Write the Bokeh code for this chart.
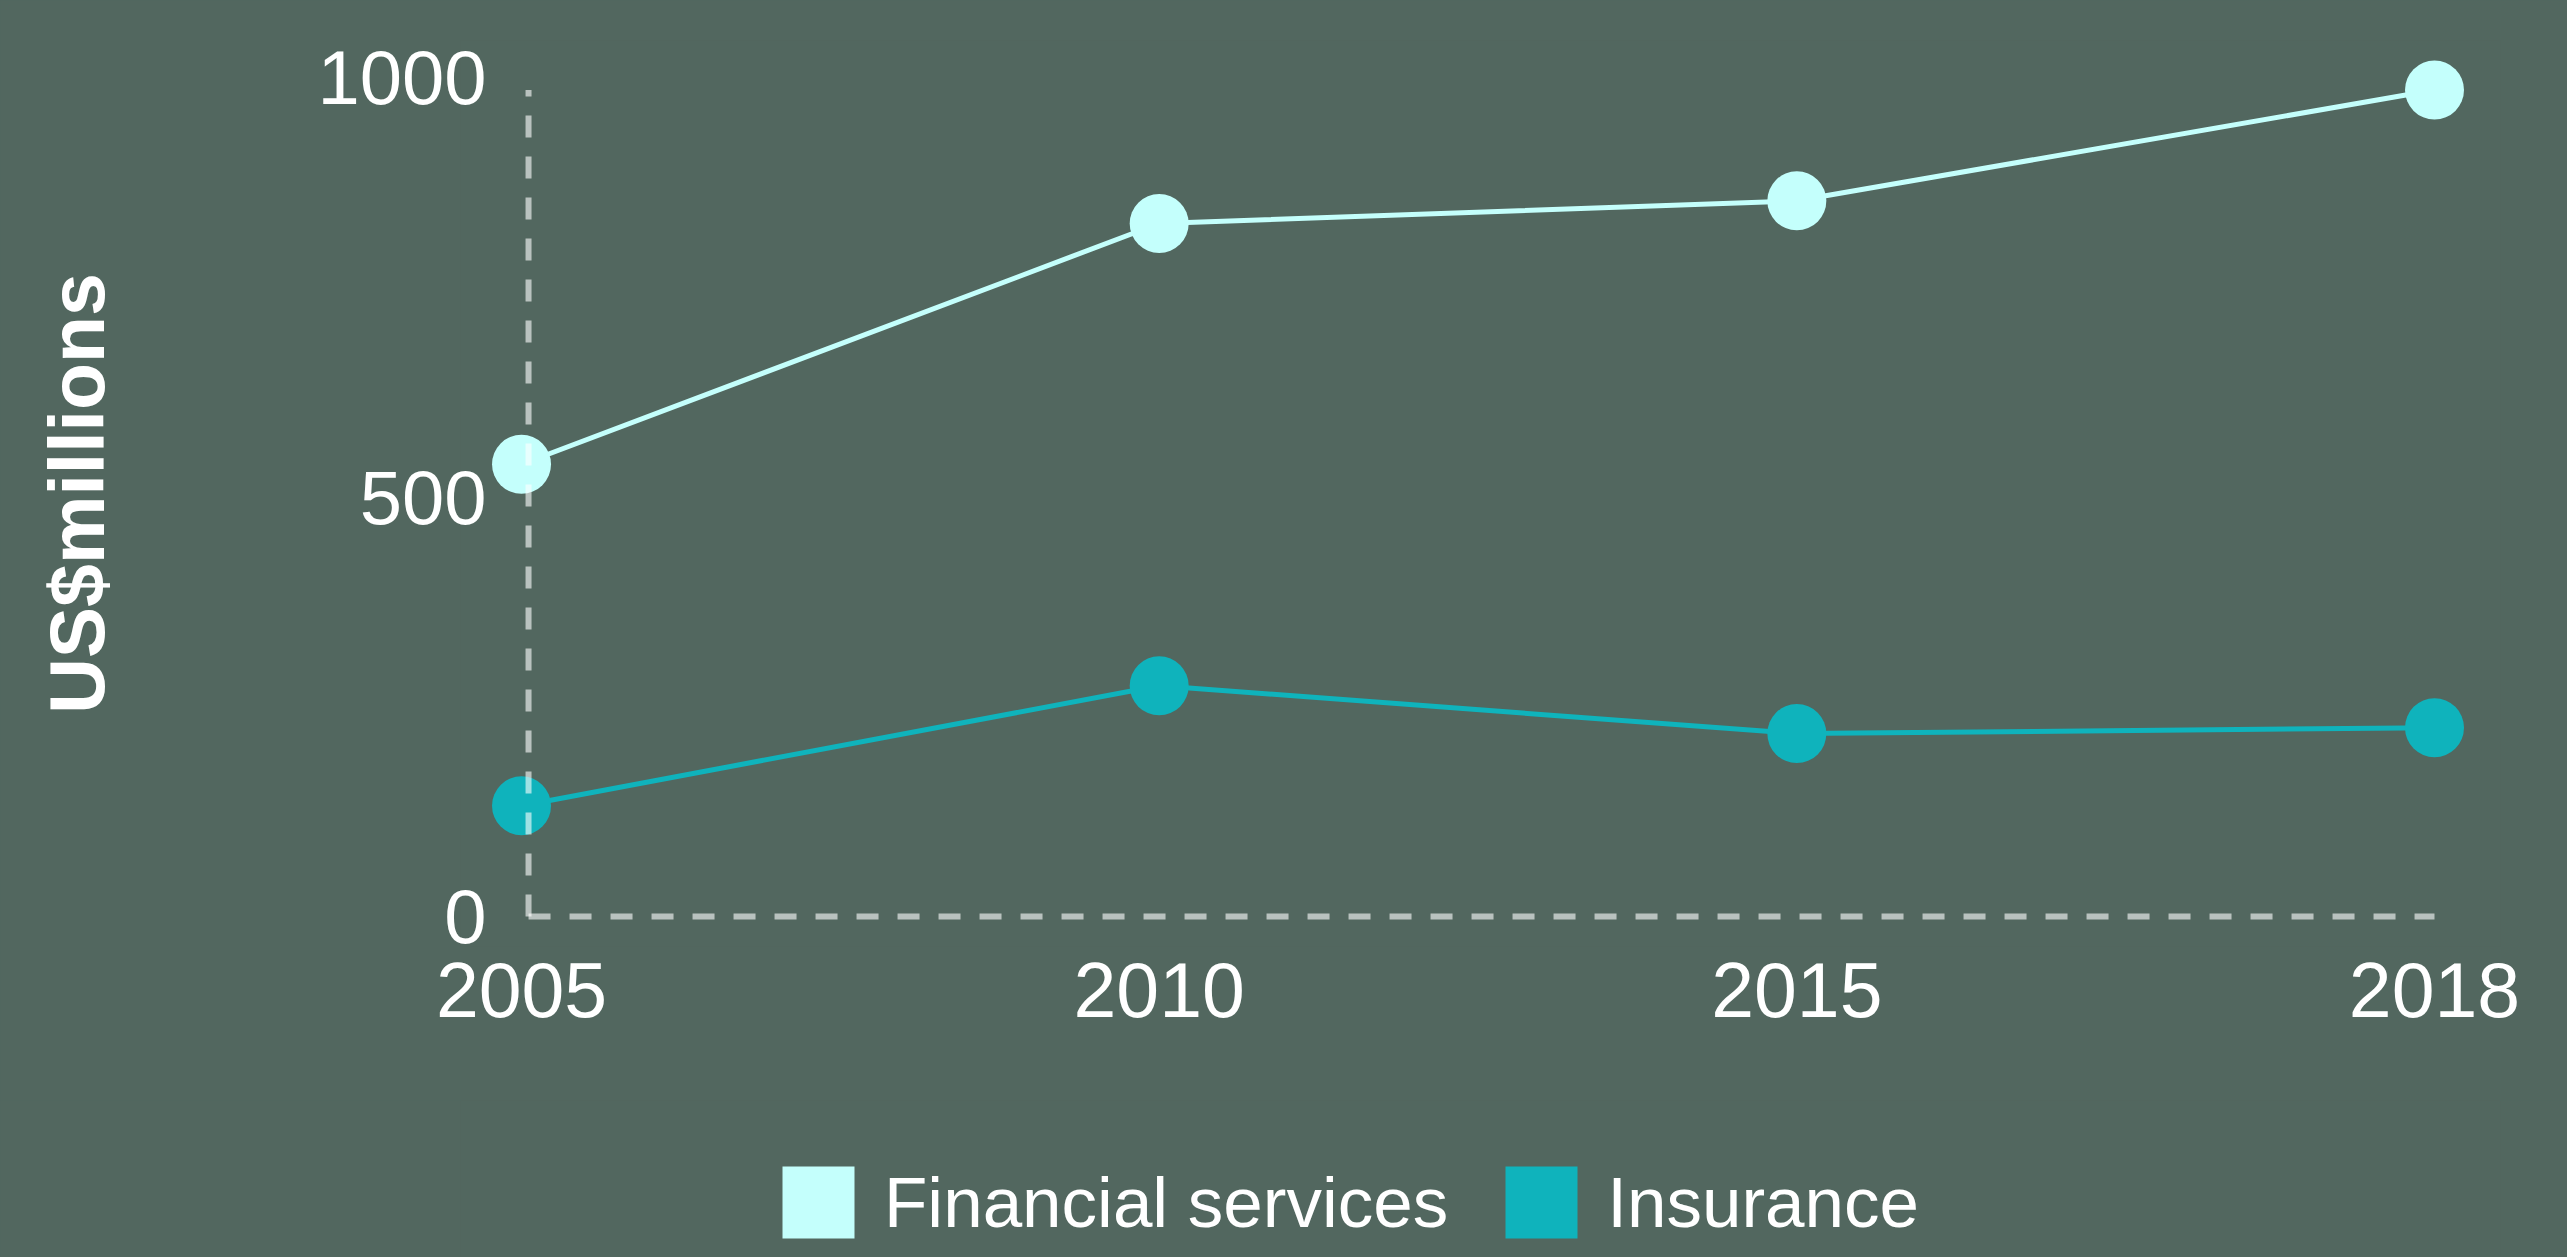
from bokeh.plotting import figure
from bokeh.models import Range1d, FixedTicker, Legend, LegendItem
from bokeh.layouts import column
from bokeh.embed import file_html
from bokeh.resources import INLINE

# ---- data ----
years = ["2005", "2010", "2015", "2018"]
financial_services = [539, 826, 853, 985]
insurance = [132, 275, 218, 225]
y_ticks = [0, 500, 1000]
y_title = "US$millions"
series_names = ["Financial services", "Insurance"]

# ---- style ----
BG = "#52675F"
FIN = "#C4FFFC"
INS = "#0FB3BC"
FONT = "Liberation Sans"

xs = list(range(len(years)))

W, H = 2567, 1257
H1 = 1100                # main chart height; the legend strip takes the rest
FL, FR, FT, FB = 460, 2500, 40, 946
Y0, YPX = 916, 0.839     # pixel of value 0, pixels per unit
y_start = -(FB - Y0) / YPX
y_end = (Y0 - FT) / YPX
AXIS_DX = 0.011          # small shift of the dashed rules right of the first point

p = figure(width=W, height=H1, output_backend="svg", toolbar_location=None,
           x_range=Range1d(-0.0957, 3.1035), y_range=Range1d(y_start, y_end),
           min_border_left=FL, min_border_right=W - FR,
           min_border_top=FT, min_border_bottom=H1 - FB)
p.background_fill_color = BG
p.background_fill_alpha = 0
p.border_fill_color = BG
p.outline_line_color = None
p.styles = {"background-color": BG}
p.grid.visible = False

# y axis
ya = p.yaxis[0]
ya.ticker = FixedTicker(ticks=y_ticks)
ya.axis_line_color = None
ya.major_tick_line_color = None
ya.minor_tick_line_color = None
ya.major_tick_out = 0
ya.major_tick_in = 0
ya.minor_tick_out = 0
ya.minor_tick_in = 0
ya.major_label_standoff = -26
ya.major_label_text_font_size = "76px"
ya.major_label_text_color = "white"
ya.major_label_text_font = FONT
ya.axis_label = y_title
ya.axis_label_text_font = FONT
ya.axis_label_text_font_size = "77px"
ya.axis_label_text_font_style = "bold"
ya.axis_label_text_color = "white"
ya.axis_label_standoff = 194

# x axis
xa = p.xaxis[0]
xa.ticker = FixedTicker(ticks=xs)
xa.major_label_overrides = {i: y for i, y in zip(xs, years)}
xa.axis_line_color = None
xa.major_tick_line_color = None
xa.minor_tick_line_color = None
xa.major_tick_out = 0
xa.major_tick_in = 0
xa.minor_tick_out = 0
xa.minor_tick_in = 0
xa.major_label_standoff = 16
xa.major_label_text_font_size = "77px"
xa.major_label_text_color = "white"
xa.major_label_text_font = FONT

# series
p.line(xs, financial_services, line_color=FIN, line_width=5)
p.scatter(xs, financial_services, size=59, fill_color=FIN, line_color=None)
p.line(xs, insurance, line_color=INS, line_width=5)
p.scatter(xs, insurance, size=59, fill_color=INS, line_color=None)

# dashed axis rules (drawn over markers, semi-transparent)
ymax = max(max(financial_services), max(insurance))
ax0 = xs[0] + AXIS_DX
p.segment(x0=[ax0, ax0], y0=[0, 0], x1=[ax0, xs[-1]], y1=[ymax, 0],
          line_color="white", line_alpha=0.6, line_width=6, line_dash="22 19")

# ---- legend strip ----
lg = figure(width=W, height=H - H1, output_backend="svg", toolbar_location=None,
            x_range=Range1d(0, 1), y_range=Range1d(0, 1),
            x_axis_location=None, y_axis_location=None,
            min_border=0)
lg.background_fill_color = BG
lg.border_fill_color = BG
lg.outline_line_color = None
lg.styles = {"background-color": BG}
lg.grid.visible = False

# legend proxies: kept outside the strip's visible range, only their swatches show
q1 = lg.quad(left=[-3], right=[-2], top=[-2], bottom=[-3], fill_color=FIN, line_color=None)
q2 = lg.quad(left=[-3], right=[-2], top=[-2], bottom=[-3], fill_color=INS, line_color=None)
legend = Legend(items=[LegendItem(label=series_names[0], renderers=[q1]),
                       LegendItem(label=series_names[1], renderers=[q2])],
                orientation="horizontal", location=(313, 10),
                glyph_width=90, glyph_height=90, label_standoff=21, spacing=48,
                padding=0, margin=0, background_fill_alpha=0, border_line_color=None,
                label_text_font_size="71px", label_text_color="white",
                label_text_font=FONT)
lg.add_layout(legend, "center")

layout = column(p, lg, spacing=0)
open("out.html", "w").write(file_html(layout, INLINE))
